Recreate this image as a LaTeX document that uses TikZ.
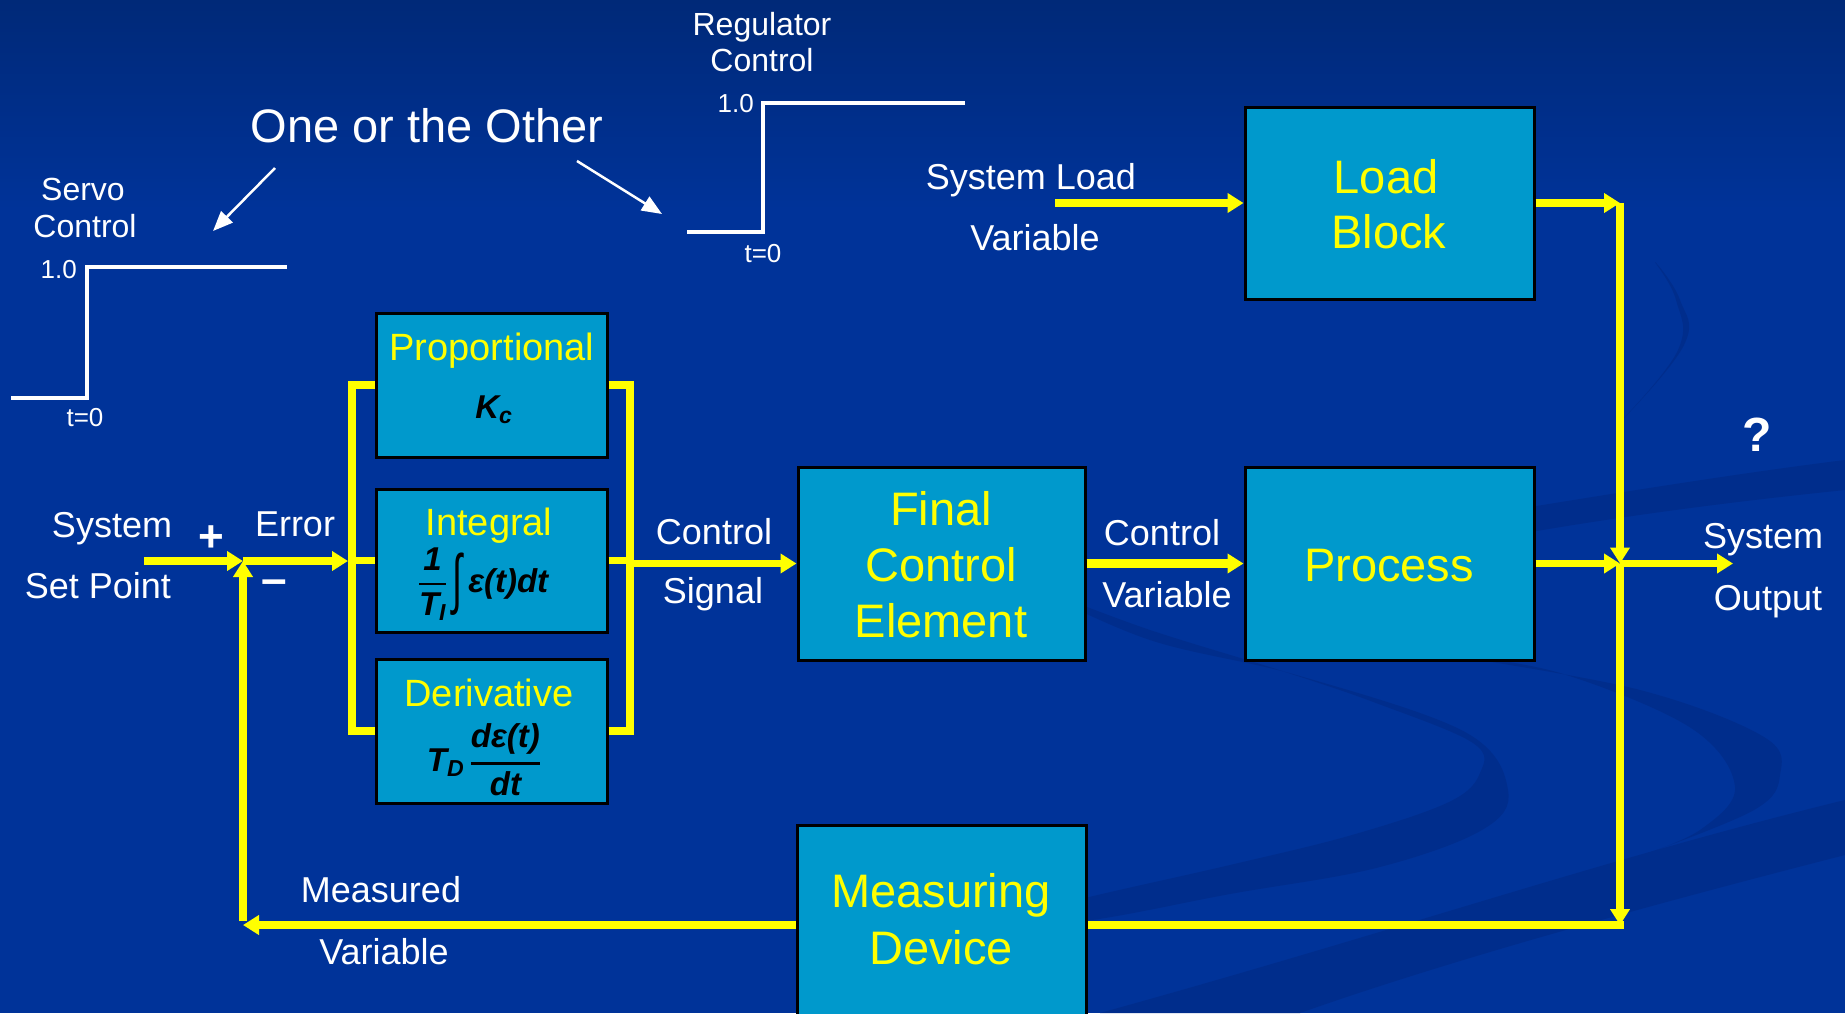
\documentclass[tikz,border=0pt]{standalone}
\usepackage{fix-cm}
\usepackage{amsmath}
\usepackage{graphicx}
\usepackage{fontspec}
\setmainfont{Liberation Sans}
\usetikzlibrary{arrows.meta}

\definecolor{bgblue}{RGB}{0,51,153}
\definecolor{bgtop}{RGB}{0,41,120}
\definecolor{swoosh}{RGB}{0,45,140}
\definecolor{boxblue}{RGB}{0,153,204}
\definecolor{sigyellow}{RGB}{255,255,0}

% bold italic text inside formulas
\newcommand\bi[1]{\text{\bfseries\itshape #1}}
\newcommand\fsz[1]{\fontsize{#1}{#1}\selectfont}

\begin{document}
\begin{tikzpicture}[x=1pt,y=-1pt,
  wire/.style={draw=sigyellow, line width=7.5pt},
  flow/.style={wire, -{Triangle[length=16pt,width=19pt]}},
  blk/.style={draw=black, line width=3pt, fill=boxblue, inner sep=0pt},
  capbox/.style={inner sep=0pt, text depth=0pt},
  ttl/.style={capbox, text=sigyellow, font=\fsz{47}, text height=33.7pt},
  subttl/.style={capbox, text=sigyellow, font=\fsz{38}, text height=27.2pt},
  lab/.style={capbox, text=white, font=\fsz{36}, text height=25.8pt},
  smlab/.style={capbox, text=white, font=\fsz{32}, text height=22.9pt},
  ticklab/.style={capbox, text=white, font=\fsz{26}, text height=18.6pt},
  formula/.style={inner sep=0pt, text=black, font=\fsz{33}},
  stepline/.style={draw=white, line width=3.5pt},
  pointer/.style={draw=white, line width=2.5pt, -{Triangle[length=20pt,width=16pt]}},
]
\useasboundingbox (0,0) rectangle (1845,1013);
\clip (0,0) rectangle (1845,1013);

% ---- background ----
\fill[bgblue] (0,0) rectangle (1845,1013);
\shade[top color=bgtop, bottom color=bgblue] (0,0) rectangle (1845,210);
\fill[swoosh] plot[smooth cycle, tension=0.6] coordinates {
  (1040,590) (1150,630) (1279,670) (1376,703) (1473,743) (1480,773) (1449,802)
  (1352,835) (1230,865) (1085,898) (960,930) (1085,921) (1230,894) (1376,868)
  (1482,830) (1508,790) (1465,732) (1300,676) (1150,640)};
\fill[swoosh] plot[smooth cycle, tension=0.6] coordinates {
  (1450,655) (1560,673) (1691,728) (1735,787) (1700,830) (1640,856)
  (1754,810) (1780,775) (1764,737) (1640,690)};
\fill[swoosh] (1100,1013) .. controls (1400,930) and (1600,860) .. (1845,800)
  -- (1845,855) .. controls (1650,905) and (1450,960) .. (1300,1013) -- cycle;
\fill[swoosh] (1300,545) .. controls (1500,512) and (1700,478) .. (1845,460)
  -- (1845,490) .. controls (1700,505) and (1500,530) .. (1300,580) -- cycle;
\fill[swoosh] plot[smooth cycle, tension=0.7] coordinates {
  (1655,262) (1680,300) (1684,345) (1622,420) (1678,350) (1676,300)};

% ---- step inputs ----
\coordinate (s1a) at (11,398);  \coordinate (s1b) at (87,398);
\coordinate (s1c) at (87,267);  \coordinate (s1d) at (287,267);
\draw[stepline] (s1a) -- (s1b) -- (s1c) -- (s1d);
\node[smlab] (servo1) at (83,189) {Servo};
\node[smlab] (servo2) at (85,226) {Control};
\node[ticklab, anchor=east] (servohi) at (77,269) {1.0};
\node[ticklab] (servot) at (85,417) {t=0};

\coordinate (s2a) at (687,232);  \coordinate (s2b) at (763,232);
\coordinate (s2c) at (763,103);  \coordinate (s2d) at (965,103);
\draw[stepline] (s2a) -- (s2b) -- (s2c) -- (s2d);
\node[smlab] (reg1) at (762,24) {Regulator};
\node[smlab] (reg2) at (762,60) {Control};
\node[ticklab, anchor=east] (reghi) at (754,103.5) {1.0};
\node[ticklab] (regt) at (763,253) {t=0};

\node[capbox, text=white, font=\fsz{47}, text height=33.7pt] (choice) at (427,126) {One or the Other};
\coordinate (p1s) at (275,168); \coordinate (p1e) at (213,231);
\coordinate (p2s) at (577,161); \coordinate (p2e) at (662,214);
\draw[pointer] (p1s) -- (p1e);
\draw[pointer] (p2s) -- (p2e);

% ---- blocks ----
\node[blk, minimum width=231pt, minimum height=144pt] (prop)  at (491.5,385) {};
\node[blk, minimum width=231pt, minimum height=143pt] (integ) at (491.5,560.5) {};
\node[blk, minimum width=231pt, minimum height=144pt] (deriv) at (491.5,731) {};
\node[blk, minimum width=287pt, minimum height=193pt] (fce)   at (941.5,563.5) {};
\node[blk, minimum width=289pt, minimum height=193pt] (proc)  at (1389.5,563.5) {};
\node[blk, minimum width=289pt, minimum height=192pt] (load)  at (1389.5,203) {};
\node[blk, minimum width=289pt, minimum height=200pt] (meas)  at (941.5,925) {};

\node[subttl] (propt) at (492,347) {Proportional};
\node[formula] (propf) at (494,410) {$\bi{K}_{\bi{c}}$};
\node[subttl] (integt) at (489,522) {Integral};
\node[formula] (integf) at (483,584) {$\genfrac{}{}{2.5pt}{0}{\bi{1}}{\bi{T}_{\bi{I}}}\,\vcenter{\hbox{\scalebox{1.1}[2.0]{\upshape ∫}}}\,\bi{ε(t)dt}$};
\node[subttl] (derivt) at (489,693) {Derivative};
\node[formula] (derivf) at (484,760) {$\bi{T}_{\bi{D}}\,\genfrac{}{}{2.5pt}{0}{\bi{dε(t)}}{\bi{dt}}$};

\node[ttl] (fce1) at (941,509) {Final};
\node[ttl] (fce2) at (941,565) {Control};
\node[ttl] (fce3) at (941,621) {Element};
\node[ttl] (proct) at (1389,565) {Process};
\node[ttl] (load1) at (1386,177) {Load};
\node[ttl] (load2) at (1389,232) {Block};
\node[ttl] (meas1) at (941,891) {Measuring};
\node[ttl] (meas2) at (941,948) {Device};

% ---- signal labels ----
\node[lab] (sys1) at (112,525) {System};
\node[lab] (sys2) at (98,586) {Set Point};
\node[capbox, text=white, font=\bfseries\fsz{44}, text height=24pt] (plus) at (211,539) {+};
\node[capbox, text=white, font=\bfseries\fsz{46}, text height=4pt] (minus) at (274,592) {–};
\node[lab] (err) at (295,524) {Error};
\node[lab] (cs1) at (714,532) {Control};
\node[lab] (cs2) at (713,591) {Signal};
\node[lab] (cv1) at (1162,533) {Control};
\node[lab] (cv2) at (1167,595) {Variable};
\node[lab] (sl1) at (1031,177) {System Load};
\node[lab] (sl2) at (1035,238) {Variable};
\node[lab] (mv1) at (381,890) {Measured};
\node[lab] (mv2) at (384,952) {Variable};
\node[lab] (so1) at (1763,536) {System};
\node[lab] (so2) at (1768,598) {Output};
\node[capbox, text=white, font=\bfseries\fsz{48}, text height=34.5pt] (qmark) at (1757,434) {?};

% ---- connectors ----
\coordinate (sp)    at (144,561);
\coordinate (sj)    at (243,561);
\coordinate (lbtop) at (352,381);
\coordinate (lbbot) at (352,735);
\coordinate (lbin)  at (348,561);
\coordinate (rbtop) at (630,381);
\coordinate (rbbot) at (630,735);
\coordinate (outj)  at (1620,563.5);
\coordinate (fbj)   at (1620,925);
\coordinate (mvj)   at (243,925);
\coordinate (sysout) at (1733,563.5);
\coordinate (loadin) at (1055,203);

% set point into the summing junction, error onto the PID bus
\draw[flow] (sp) -- (sj);
\draw[flow] (sj) -- (lbin);
\draw[wire] (lbtop) -- (lbbot);
\draw[wire] (lbtop |- prop.west)  -- (prop.west);
\draw[wire] (lbtop |- integ.west) -- (integ.west);
\draw[wire] (lbtop |- deriv.west) -- (deriv.west);

% PID outputs summed on the right bus
\draw[wire] (prop.east)  -- (rbtop |- prop.east);
\draw[wire] (integ.east) -- (rbtop |- integ.east);
\draw[wire] (deriv.east) -- (rbtop |- deriv.east);
\draw[wire] (rbtop) -- (rbbot);
\draw[flow] (rbtop |- fce.west) -- (fce.west);

% forward path
\draw[flow, line width=9pt] (fce.east) -- (proc.west);
\draw[flow] (proc.east) -- (outj);
\draw[flow] (outj) -- (sysout);

% load disturbance
\draw[flow] (loadin) -- (load.west);
\draw[flow] (load.east) -- (load.east -| outj);
\draw[flow] (load.east -| outj) -- (outj);
\draw[flow] (outj) -- (fbj);

% feedback path
\draw[wire] ([xshift=3.75pt]fbj) -- (meas.east);
\draw[flow] (meas.west) -- (mvj);
\draw[flow] ([yshift=3.75pt]mvj) -- (sj);
\end{tikzpicture}
\end{document}
